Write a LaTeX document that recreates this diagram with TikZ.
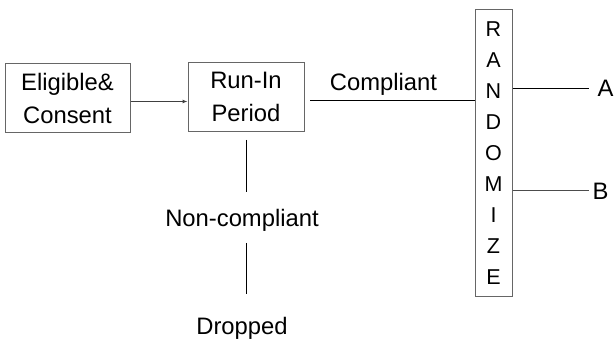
\documentclass[tikz,border=0pt]{standalone}
\usepackage{fontspec}
\setmainfont{Liberation Sans}
\usetikzlibrary{arrows.meta}
\tikzset{
  boxnode/.style={draw=black!60, line width=1pt, inner sep=0pt, align=center,
    font=\fontsize{23.8}{33}\selectfont},
  lbl/.style={inner sep=0pt, font=\fontsize{23.8}{33}\selectfont},
  conn/.style={draw=black, line width=1pt},
}
\begin{document}
\begin{tikzpicture}[x=1pt,y=-1pt]
\useasboundingbox (0,0) rectangle (614,339);
\node[boxnode, minimum width=125, minimum height=69.5] (elig) at (67.5,98) {Eligible\&\\Consent};
\node[boxnode, minimum width=116, minimum height=69] (runin) at (246,97.2) {Run-In\\Period};
\node[boxnode, minimum width=37, minimum height=287,
  font=\fontsize{21.5}{31}\selectfont] (rand) at (493.5,153.5)
  {R\\A\\N\\D\\O\\M\\I\\Z\\E};
\node[lbl, anchor=base] (comp) at (383.5,91) {Compliant};
\node[lbl, anchor=base] (noncomp) at (242,227) {Non-compliant};
\node[lbl, anchor=base] (drop) at (242,335) {Dropped};
\node[lbl, anchor=base west] (A) at (597.5,97) {A};
\node[lbl, anchor=base west] (B) at (592.5,200) {B};
\coordinate (c1) at (310,101);
\coordinate (v1a) at (246.5,140);
\coordinate (v1b) at (246.5,192);
\coordinate (v2a) at (246.5,243);
\coordinate (v2b) at (246.5,294);
\coordinate (ea) at (589,88.5);
\coordinate (eb) at (589,191);
\draw[draw=black!75, line width=1pt, -{Latex[length=5pt,width=4pt]}] (elig.east |- 0,101.5) -- (runin.west |- 0,101.5);
\draw[conn] (c1) -- (c1 -| rand.west);
\draw[conn] (rand.east |- ea) -- (ea);
\draw[conn, draw=black!70] (rand.east |- eb) -- (eb);
\draw[conn] (v1a) -- (v1b);
\draw[conn] (v2a) -- (v2b);
\end{tikzpicture}
\end{document}
